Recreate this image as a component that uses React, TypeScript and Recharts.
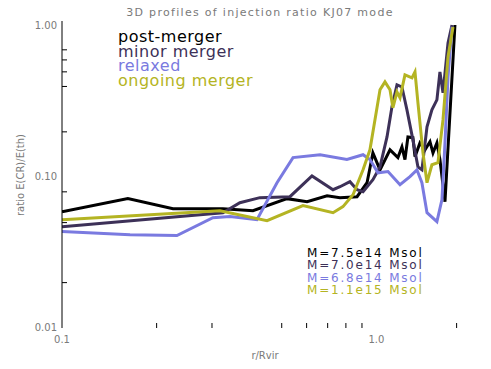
import React from 'react';
import { LineChart, Line, XAxis, YAxis } from 'recharts';

// ---- data ----
const postMergerR = [0.100, 0.162, 0.2255, 0.325, 0.405, 0.520, 0.602, 0.697, 0.766, 0.868, 0.934, 0.975, 1.027, 1.105, 1.171, 1.206, 1.233, 1.260, 1.307, 1.327, 1.376, 1.428, 1.481, 1.514, 1.558, 1.593, 1.653, 1.778];
const postMergerRatio = [0.0591, 0.0721, 0.0619, 0.0619, 0.0600, 0.0721, 0.0688, 0.0754, 0.0732, 0.0743, 0.0920, 0.145, 0.112, 0.152, 0.135, 0.159, 0.131, 0.185, 0.183, 0.137, 0.169, 0.152, 0.172, 0.145, 0.169, 0.131, 0.0688, 1.023];

const minorMergerR = [0.100, 0.325, 0.368, 0.426, 0.531, 0.624, 0.728, 0.766, 0.824, 0.868, 0.907, 0.975, 1.027, 1.081, 1.121, 1.163, 1.206, 1.251, 1.307, 1.356, 1.396, 1.449, 1.502, 1.558, 1.593, 1.629, 1.690, 1.740];
const minorMergerRatio = [0.0470, 0.0582, 0.0678, 0.0732, 0.0743, 0.102, 0.0826, 0.0865, 0.0934, 0.0826, 0.0802, 0.0963, 0.117, 0.185, 0.293, 0.410, 0.397, 0.280, 0.177, 0.117, 0.112, 0.216, 0.280, 0.326, 0.500, 0.363, 0.778, 1.023];

const relaxedR = [0.100, 0.1646, 0.232, 0.302, 0.342, 0.417, 0.483, 0.543, 0.662, 0.806, 0.907, 0.954, 1.012, 1.089, 1.189, 1.279, 1.346, 1.396, 1.449, 1.558, 1.617, 1.653, 1.690, 1.740];
const relaxedRatio = [0.0436, 0.0416, 0.0410, 0.0539, 0.0548, 0.0523, 0.0920, 0.135, 0.141, 0.131, 0.141, 0.131, 0.107, 0.109, 0.0892, 0.101, 0.112, 0.0920, 0.0582, 0.0507, 0.0710, 0.169, 0.463, 0.992];

const ongoingMergerR = [0.100, 0.318, 0.449, 0.584, 0.728, 0.783, 0.843, 0.907, 0.954, 1.027, 1.065, 1.105, 1.129, 1.163, 1.189, 1.233, 1.298, 1.327, 1.356, 1.407, 1.449, 1.502, 1.570, 1.629, 1.690, 1.753];
const ongoingMergerRatio = [0.0523, 0.0600, 0.0515, 0.0648, 0.0582, 0.0638, 0.0766, 0.112, 0.152, 0.380, 0.429, 0.380, 0.289, 0.368, 0.336, 0.477, 0.456, 0.500, 0.311, 0.145, 0.0920, 0.121, 0.125, 0.240, 0.628, 0.992];

const seriesNames = ['post-merger', 'minor merger', 'relaxed', 'ongoing merger'];
const seriesMasses = ['M=7.5e14 Msol', 'M=7.0e14 Msol', 'M=6.8e14 Msol', 'M=1.1e15 Msol'];
const seriesColors = ['#000000', '#3d3158', '#7a7ae0', '#b4b423'];

const xTickValues = [0.1, 0.2, 0.3, 0.5, 0.6, 0.7, 0.8, 0.9, 1.0, 1.8];
const xTickLabels = ['0.1', '', '', '', '', '', '', '', '1.0', ''];
const yTickValues = [0.01, 0.02, 0.05, 0.06, 0.08, 0.1, 0.2, 0.4, 0.5, 0.6, 0.7, 1.0];
const yTickLabels = ['0.01', '', '', '', '', '0.10', '', '', '', '', '', '1.00'];

const title = '3D profiles  of injection ratio  KJ07 mode';
const xLabel = 'r/Rvir';
const yLabel = 'ratio E(CR)/E(th)';

const build = (rs: number[], vs: number[]) => rs.map((r, i) => ({ r, ratio: vs[i] }));
const seriesData = [
  build(postMergerR, postMergerRatio),
  build(minorMergerR, minorMergerRatio),
  build(relaxedR, relaxedRatio),
  build(ongoingMergerR, ongoingMergerRatio),
];

const W = 491;
const H = 369;
const FONT = 'DejaVu Sans, sans-serif';
const LABEL_GRAY = '#7a7a7a';
const TICK_LEN = 5;

const makeTick = (side: 'left' | 'right' | 'top' | 'bottom', values: number[], labels: string[]) =>
  (props: any) => {
    const { x, y, payload } = props;
    const i = values.indexOf(payload.value);
    const label = i >= 0 ? labels[i] : '';
    if (side === 'left') {
      if (label) {
        return (
          <text x={x - 5} y={y + 3} textAnchor="end" fontSize={10} fontFamily={FONT} fill={LABEL_GRAY}>{label}</text>
        );
      }
      return <line x1={x} y1={y} x2={x + TICK_LEN} y2={y} stroke="#000" strokeWidth={1} />;
    }
    if (side === 'right') {
      if (label) return <g />;
      return <line x1={x} y1={y} x2={x - TICK_LEN} y2={y} stroke="#000" strokeWidth={1} />;
    }
    if (side === 'top') {
      if (label) return <g />;
      return <line x1={x} y1={y} x2={x} y2={y + TICK_LEN} stroke="#000" strokeWidth={1} />;
    }
    // bottom
    if (label) {
      return (
        <text x={x} y={y + 15} textAnchor="middle" fontSize={10} fontFamily={FONT} fill={LABEL_GRAY}>{label}</text>
      );
    }
    return <line x1={x} y1={y} x2={x} y2={y - TICK_LEN} stroke="#000" strokeWidth={1} />;
  };

export default function App() {
  return (
    <div style={{ position: 'absolute', left: 0, top: 0, width: W, height: H, background: '#fff' }}>
      <LineChart
        width={W}
        height={H}
        margin={{ top: 21, right: 20, bottom: 0, left: 0 }}
      >
        <XAxis
          xAxisId="bottom"
          dataKey="r"
          type="number"
          scale="log"
          domain={[0.1, 2.0]}
          allowDataOverflow
          ticks={xTickValues}
          interval={0}
          height={41}
          axisLine={false}
          tickLine={false}
          tickSize={0}
          tickMargin={0}
          tick={makeTick('bottom', xTickValues, xTickLabels)}
        />
        <XAxis
          xAxisId="top"
          orientation="top"
          dataKey="r"
          type="number"
          scale="log"
          domain={[0.1, 2.0]}
          allowDataOverflow
          ticks={xTickValues}
          interval={0}
          height={0}
          axisLine={false}
          tickLine={false}
          tickSize={0}
          tickMargin={0}
          tick={makeTick('top', xTickValues, xTickLabels)}
        />
        <YAxis
          yAxisId="left"
          type="number"
          scale="log"
          domain={[0.01, 1.087]}
          allowDataOverflow
          ticks={yTickValues}
          interval={0}
          width={62}
          axisLine={{ stroke: '#000', strokeWidth: 1 }}
          tickLine={false}
          tickSize={0}
          tickMargin={0}
          tick={makeTick('left', yTickValues, yTickLabels)}
        />
        <YAxis
          yAxisId="right"
          orientation="right"
          type="number"
          scale="log"
          domain={[0.01, 1.087]}
          allowDataOverflow
          ticks={yTickValues}
          interval={0}
          width={0}
          axisLine={{ stroke: '#000', strokeWidth: 1 }}
          tickLine={false}
          tickSize={0}
          tickMargin={0}
          tick={makeTick('right', yTickValues, yTickLabels)}
        />
        {seriesData.map((d, i) => (
          <Line
            key={seriesNames[i]}
            xAxisId="bottom"
            yAxisId="left"
            data={d}
            dataKey="ratio"
            type="linear"
            stroke={seriesColors[i]}
            strokeWidth={3}
            dot={false}
            activeDot={false}
            isAnimationActive={false}
          />
        ))}
      </LineChart>
      <svg width={W} height={H} style={{ position: 'absolute', left: 0, top: 0, pointerEvents: 'none' }}>
        <text x={260} y={16} textAnchor="middle" fontSize={11} fontFamily={FONT} fill={LABEL_GRAY} letterSpacing={1.3}>{title}</text>
        <text x={265} y={359} textAnchor="middle" fontSize={10} fontFamily={FONT} fill={LABEL_GRAY}>{xLabel}</text>
        <text x={24} y={175} textAnchor="middle" fontSize={10} fontFamily={FONT} fill={LABEL_GRAY} transform="rotate(-90 24 175)">{yLabel}</text>
        {seriesNames.map((n, i) => (
          <text key={n} x={118} y={42 + i * 14.7} fontSize={16} fontFamily={FONT} fill={seriesColors[i]} letterSpacing={0.5}>{n}</text>
        ))}
        {seriesMasses.map((m, i) => (
          <text key={m} x={307} y={257 + i * 12.3} fontSize={12} fontFamily={FONT} fill={seriesColors[i]} letterSpacing={1.8}>{m}</text>
        ))}
      </svg>
    </div>
  );
}
